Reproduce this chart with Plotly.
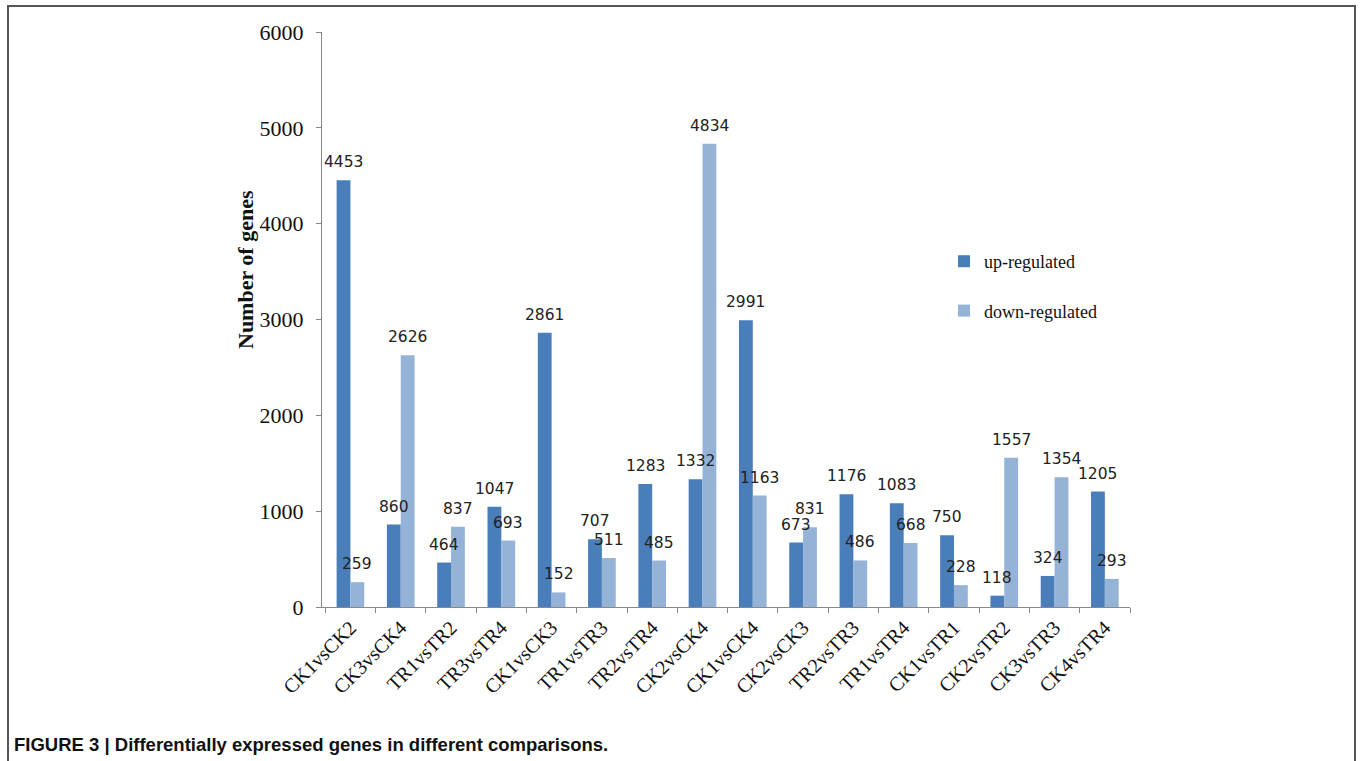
import plotly.graph_objects as go

# Comparisons and DEG counts
comparisons = ["CK1vsCK2", "CK3vsCK4", "TR1vsTR2", "TR3vsTR4", "CK1vsCK3", "TR1vsTR3",
               "TR2vsTR4", "CK2vsCK4", "CK1vsCK4", "CK2vsCK3", "TR2vsTR3", "TR1vsTR4",
               "CK1vsTR1", "CK2vsTR2", "CK3vsTR3", "CK4vsTR4"]
up_regulated = [4453, 860, 464, 1047, 2861, 707, 1283, 1332, 2991, 673, 1176, 1083, 750, 118, 324, 1205]
down_regulated = [259, 2626, 837, 693, 152, 511, 485, 4834, 1163, 831, 486, 668, 228, 1557, 1354, 293]
y_ticks = [0, 1000, 2000, 3000, 4000, 5000, 6000]

W, H = 1363, 761
ML, MR, MT, MB = 322, 233, 32, 154
PW, PH = W - ML - MR, H - MT - MB
BARGAP = 0.45
bar_px = PW / len(comparisons) * (1 - BARGAP) / 2

UP_COLOR = "#4A7EBB"
DOWN_COLOR = "#95B3D7"
SERIF = "Liberation Serif, Times New Roman, serif"


def px_x(px):
    return (px - ML) / PW


def px_y(py):
    return (H - MB - py) / PH


fig = go.Figure()
fig.add_trace(go.Bar(x=comparisons, y=up_regulated, name="up-regulated",
                     marker=dict(color=UP_COLOR, line=dict(width=0)), legendgroup="up"))
fig.add_trace(go.Bar(x=comparisons, y=down_regulated, name="down-regulated",
                     marker=dict(color=DOWN_COLOR, line=dict(width=0)), legendgroup="down"))

annotations = []
for cat, u, d in zip(comparisons, up_regulated, down_regulated):
    for val, shift in ((u, -bar_px / 2), (d, bar_px / 2)):
        annotations.append(dict(x=cat, y=val, xref="x", yref="y", text=str(val),
                                showarrow=False, xshift=shift, yshift=18,
                                xanchor="center", yanchor="middle",
                                font=dict(family="DejaVu Sans, Verdana, sans-serif",
                                          size=15.5, color="#222222")))

annotations.append(dict(x=px_x(245), y=px_y(270), xref="paper", yref="paper",
                        text="<b>Number of genes</b>", textangle=-90, showarrow=False,
                        xanchor="center", yanchor="middle",
                        font=dict(family=SERIF, size=22, color="#111111")))
annotations.append(dict(x=px_x(12), y=px_y(744), xref="paper", yref="paper",
                        text="<b>FIGURE 3 | Differentially expressed genes in different comparisons.</b>",
                        showarrow=False, xanchor="left", yanchor="middle",
                        font=dict(family="Liberation Sans, Arial, sans-serif", size=18.5,
                                  color="#111111")))

shapes = [dict(type="rect", xref="paper", yref="paper",
               x0=px_x(8), x1=px_x(1355), y0=px_y(770), y1=px_y(6),
               line=dict(color="#555555", width=2), layer="below")]

fig.update_layout(
    width=W, height=H,
    margin=dict(l=ML, r=MR, t=MT, b=MB, pad=0),
    plot_bgcolor="white", paper_bgcolor="white",
    barmode="group", bargap=BARGAP, bargroupgap=0,
    showlegend=True,
    legend=dict(x=px_x(944), y=px_y(243), xanchor="left", yanchor="top",
                tracegroupgap=23, bgcolor="rgba(0,0,0,0)",
                font=dict(family=SERIF, size=18, color="#111111")),
    xaxis=dict(type="category", tickangle=-45, tickson="boundaries", ticks="outside",
               ticklen=5, tickcolor="#888888", showline=True, linecolor="#888888",
               linewidth=1, showgrid=False,
               tickfont=dict(family=SERIF, size=20, color="#111111")),
    yaxis=dict(range=[0, 6000], tickvals=y_ticks, ticks="outside", ticklen=5,
               tickcolor="#888888", showline=True, linecolor="#888888", linewidth=1,
               showgrid=False, zeroline=False, ticklabelstandoff=8,
               tickfont=dict(family=SERIF, size=22, color="#111111")),
    annotations=annotations,
    shapes=shapes,
)

fig.write_html("out.html")
